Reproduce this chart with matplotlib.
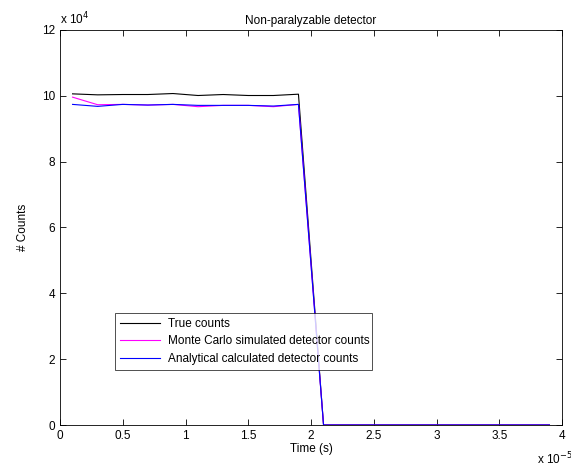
import numpy as np
import matplotlib.pyplot as plt
from matplotlib.ticker import FuncFormatter

plt.rcParams['font.family'] = ['Liberation Sans', 'DejaVu Sans']

# Time bins (s) and counts
time = np.array([0.1, 0.3, 0.5, 0.7, 0.9, 1.1, 1.3, 1.5, 1.7, 1.9,
                 2.1, 2.3, 2.5, 2.7, 2.9, 3.1, 3.3, 3.5, 3.7, 3.9]) * 1e-5
true_counts = np.array([10.06, 10.03, 10.04, 10.04, 10.07, 10.01, 10.04, 10.01, 10.01, 10.05,
                        0, 0, 0, 0, 0, 0, 0, 0, 0, 0]) * 1e4
mc_counts = np.array([9.96, 9.73, 9.74, 9.72, 9.74, 9.67, 9.71, 9.71, 9.67, 9.74,
                      0, 0, 0, 0, 0, 0, 0, 0, 0, 0]) * 1e4
analytic_counts = np.array([9.74, 9.68, 9.74, 9.72, 9.74, 9.71, 9.71, 9.71, 9.69, 9.74,
                            0, 0, 0, 0, 0, 0, 0, 0, 0, 0]) * 1e4

fig = plt.figure(figsize=(5.71, 4.73), dpi=100)
ax = fig.add_axes([60 / 571, 1 - 425 / 473, 502 / 571, 395 / 473])

ax.plot(time, true_counts, color='black', lw=0.8, label='True counts')
ax.plot(time, mc_counts, color='magenta', lw=0.8, label='Monte Carlo simulated detector counts')
ax.plot(time, analytic_counts, color='blue', lw=0.8, label='Analytical calculated detector counts')

ax.set_xlim(0, 4e-5)
ax.set_ylim(0, 12e4)
ax.set_xticks(np.arange(0, 4.01, 0.5) * 1e-5)
ax.set_yticks(np.arange(0, 12.1, 2) * 1e4)
ax.xaxis.set_major_formatter(FuncFormatter(lambda v, p: f"{v / 1e-5:g}"))
ax.yaxis.set_major_formatter(FuncFormatter(lambda v, p: f"{v / 1e4:g}"))
ax.tick_params(direction='in', top=True, right=True, labelsize=8.5, length=4, width=0.6)
for s in ax.spines.values():
    s.set_linewidth(0.6)

ax.set_title('Non-paralyzable detector', fontsize=8.5, pad=4)
ax.set_xlabel('Time (s)', fontsize=8.5, labelpad=1)
ax.set_ylabel('# Counts', fontsize=8.5, labelpad=9)

ax.text(0, 1.008, r'x 10$^{4}$', transform=ax.transAxes, fontsize=8.5, va='bottom', ha='left')
ax.text(0.985, -0.065, r'x 10$^{-5}$', transform=ax.transAxes, fontsize=8.5, va='top', ha='center')

# legend box roughly 115..372 px wide, 313..370 px tall
leg = ax.legend(loc='lower left',
                bbox_to_anchor=((115 - 60) / 502, (425 - 370) / 395, (372 - 115) / 502, 57 / 395),
                mode='expand', fontsize=8.5, frameon=True, fancybox=False, borderaxespad=0,
                handlelength=3.4, handletextpad=0.6, labelspacing=0.45, borderpad=0.45)
leg.get_frame().set_edgecolor('black')
leg.get_frame().set_linewidth(0.6)

fig.savefig('out.png', dpi=100)
